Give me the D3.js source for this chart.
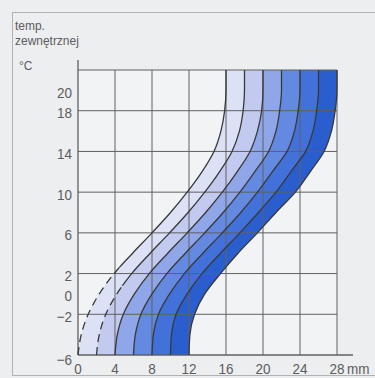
<!DOCTYPE html>
<html>
<head>
<meta charset="utf-8">
<script src="https://cdn.jsdelivr.net/npm/d3@7"></script>
<style>
  html, body { margin: 0; padding: 0; background: #eceef0; }
  svg { display: block; }
  text { font-family: "Liberation Sans", Arial, sans-serif; fill: #5c5c5c; font-size: 15px; }
</style>
</head>
<body>
<svg id="chart" width="375" height="378"></svg>
<script>
// ---- data ----
const tempLevels = [-6, -4, -2, 0, 2, 4, 6, 8, 10, 12, 14, 16, 18, 20, 22];
const curve0 = [0, 0.35, 1.1, 2.3, 3.9, 5.9, 8.0, 10.0, 11.8, 13.4, 14.7, 15.45, 15.85, 16, 16];
const curve1 = [2, 2.3, 3.0, 4.2, 5.8, 7.8, 9.9, 11.9, 13.7, 15.3, 16.65, 17.45, 17.85, 18, 18];
const curve2 = [4, 4.25, 4.9, 6.1, 7.7, 9.7, 11.8, 13.8, 15.6, 17.2, 18.6, 19.4, 19.85, 20, 20];
const curve3 = [6, 6.2, 6.8, 8.0, 9.6, 11.6, 13.7, 15.7, 17.5, 19.1, 20.6, 21.4, 21.8, 22, 22];
const curve4 = [8, 8.15, 8.7, 9.9, 11.5, 13.5, 15.6, 17.6, 19.4, 21.0, 22.6, 23.4, 23.8, 24, 24];
const curve5 = [10, 10.1, 10.6, 11.8, 13.4, 15.4, 17.5, 19.5, 21.4, 23.0, 24.6, 25.4, 25.8, 26, 26];
const curve6 = [12, 12.1, 12.6, 13.7, 15.4, 17.3, 19.4, 21.4, 23.5, 25.1, 26.6, 27.4, 27.8, 28, 28];
const curves = [curve0, curve1, curve2, curve3, curve4, curve5, curve6];
const dashedBelow = [2.6, 0.8, null, null, null, null, null]; // temperature below which a curve is dashed
const bandColors = ["#dce1f5", "#c3caef", "#8fa6e9", "#6489e0", "#4272d9", "#2a5ece"];
const xTicks = [0, 4, 8, 12, 16, 20, 24, 28];
const yTickLabels = [-6, -2, 0, 2, 6, 10, 14, 18, 20];
const yGrid = [-6, -2, 2, 6, 10, 14, 18, 22];
const titleLines = ["temp.", "zewnętrznej", "°C"];
const xUnit = "mm";

// ---- drawing ----
const svg = d3.select("#chart");
const x = d3.scaleLinear().domain([0, 28]).range([78, 337]);
const y = d3.scaleLinear().domain([-6, 22]).range([355, 70]);
const SX = 0.9; // slightly condensed look

function label(px, py, s, anchor) {
  return svg.append("text")
    .attr("transform", `translate(${px},${py}) scale(${SX},1)`)
    .attr("text-anchor", anchor || "start")
    .text(s);
}

// outer frame
svg.append("rect").attr("x", 12.5).attr("y", 12.5).attr("width", 380).attr("height", 363)
  .attr("fill", "none").attr("stroke", "#b0b2b4").attr("stroke-width", 1);

// plot background
svg.append("rect").attr("x", x(0)).attr("y", y(22)).attr("width", x(28) - x(0)).attr("height", y(-6) - y(22))
  .attr("fill", "#f1f3f4");

const pts = c => c.map((v, i) => ({ x: v, t: tempLevels[i] }));

// bands
const area = d3.area()
  .y(d => y(d.t))
  .x0(d => x(d.a))
  .x1(d => x(d.b))
  .curve(d3.curveMonotoneY);
for (let k = 0; k < curves.length - 1; k++) {
  const data = tempLevels.map((t, i) => ({ t, a: curves[k][i], b: curves[k + 1][i] }));
  svg.append("path").datum(data).attr("d", area).attr("fill", bandColors[k]);
}

// grid
const grid = svg.append("g").attr("stroke", "#606060").attr("stroke-width", 1);
xTicks.forEach(v => {
  if (v === 0) return;
  grid.append("line").attr("x1", x(v)).attr("x2", x(v)).attr("y1", y(22)).attr("y2", y(-6));
});
yGrid.forEach(v => {
  if (v === -6) return;
  grid.append("line").attr("x1", x(0)).attr("x2", x(28)).attr("y1", y(v)).attr("y2", y(v));
});
// axes
grid.append("line").attr("x1", x(0)).attr("x2", x(0)).attr("y1", 60).attr("y2", y(-6)).attr("stroke-width", 1.3);
grid.append("line").attr("x1", x(0)).attr("x2", 353).attr("y1", y(-6)).attr("y2", y(-6)).attr("stroke-width", 1.3);

// curves
const line = d3.line().x(d => x(d.x)).y(d => y(d.t)).curve(d3.curveMonotoneY);
const defs = svg.append("defs");
curves.forEach((c, k) => {
  const split = dashedBelow[k];
  if (split === null) {
    svg.append("path").datum(pts(c)).attr("d", line)
      .attr("fill", "none").attr("stroke", "#383838").attr("stroke-width", 1.3);
  } else {
    defs.append("clipPath").attr("id", "lo" + k).append("rect")
      .attr("x", 0).attr("y", y(split)).attr("width", 375).attr("height", 378);
    defs.append("clipPath").attr("id", "hi" + k).append("rect")
      .attr("x", 0).attr("y", 0).attr("width", 375).attr("height", y(split));
    svg.append("path").datum(pts(c)).attr("d", line).attr("clip-path", `url(#hi${k})`)
      .attr("fill", "none").attr("stroke", "#383838").attr("stroke-width", 1.3);
    svg.append("path").datum(pts(c)).attr("d", line).attr("clip-path", `url(#lo${k})`)
      .attr("fill", "none").attr("stroke", "#383838").attr("stroke-width", 1.3)
      .attr("stroke-dasharray", "8,5");
  }
});

// y tick labels
yTickLabels.forEach(v => {
  label(72, y(v) + (v === -6 ? 10 : 7.5), v < 0 ? "−" + Math.abs(v) : String(v), "end");
});
// x tick labels
xTicks.forEach(v => {
  label(x(v), 374, String(v), "middle");
});
label(347, 374, xUnit, "start");

// title (three lines)
const tyPos = [30, 45, 70];
const txPos = [15, 15, 19];
titleLines.forEach((s, i) => {
  svg.append("text")
    .attr("transform", `translate(${txPos[i]},${tyPos[i]}) scale(0.92,1)`)
    .style("font-size", "13px")
    .text(s);
});
</script>
</body>
</html>
